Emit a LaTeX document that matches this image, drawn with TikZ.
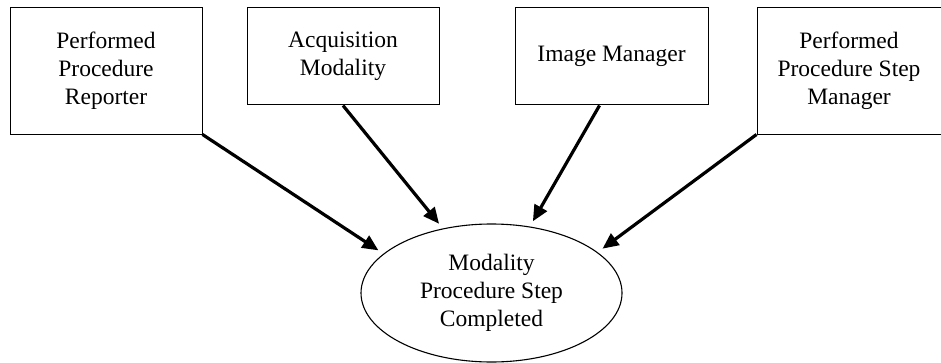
\documentclass[tikz,border=0pt]{standalone}
\usepackage{fontspec}
\setmainfont{Liberation Serif}
\usetikzlibrary{shapes.geometric,arrows.meta}
\begin{document}
\begin{tikzpicture}[x=1pt,y=1pt,
  actor/.style={draw, line width=1pt, align=center, inner sep=0pt, font=\fontsize{23.5}{28}\selectfont},
  txn/.style={draw, ellipse, line width=1.1pt, align=center, inner sep=0pt, font=\fontsize{23.5}{28}\selectfont},
  flow/.style={line width=3.2pt, -{Triangle[length=16pt,width=14pt]}, shorten >=6pt}]
\useasboundingbox (0,0) rectangle (941,362);
\node[actor, minimum width=192pt, minimum height=126pt] (ppr) at (106,291) {Performed\\Procedure\\Reporter};
\node[actor, minimum width=192pt, minimum height=97pt] (am) at (343,305.5) {Acquisition\\Modality};
\node[actor, minimum width=193pt, minimum height=97pt] (im) at (611.5,305.5) {Image Manager};
\node[actor, minimum width=184pt, minimum height=126pt] (ppsm) at (849,291) {Performed\\Procedure Step\\Manager};

\node[txn, minimum width=261pt, minimum height=138pt] (mpps) at (491.5,69) {Modality\\Procedure Step\\Completed};

% transactions into the ellipse
\draw[flow] (ppr.south east) -- (mpps.160);
\draw[flow] (am.south) -- (mpps.127);
\draw[flow] ([xshift=-12pt]im.south) -- (mpps.60);
\draw[flow] (ppsm.south west) -- (mpps.21);
\end{tikzpicture}
\end{document}
